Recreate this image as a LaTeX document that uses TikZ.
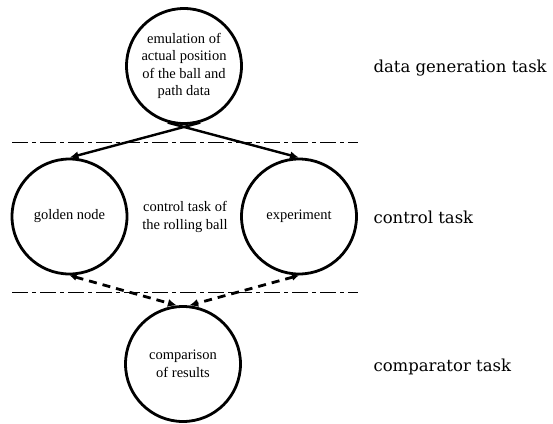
\documentclass[tikz,border=0pt]{standalone}
\usepackage{fontspec}
\setmainfont{Liberation Serif}
\newfontfamily\labelfont{DejaVu Serif}
\usetikzlibrary{arrows.meta}
\tikzset{
  task/.style={circle, draw, line width=2.8pt, minimum size=115pt, inner sep=0pt,
    align=center, font=\fontsize{14.5}{17.5}\selectfont},
  plain/.style={align=center, font=\fontsize{14.5}{17.5}\selectfont},
  tasklabel/.style={anchor=base west, font=\labelfont\fontsize{16.5}{19}\selectfont},
  flow/.style={-{Latex[length=9pt,width=8pt]}, line width=2.4pt},
  check/.style={{Latex[length=7pt,width=7pt]}-{Latex[length=9pt,width=8pt]}, line width=2.8pt, dash pattern=on 8pt off 6pt},
  sep/.style={line width=0.8pt, dash pattern=on 16pt off 4pt on 4pt off 4pt}
}
\begin{document}
\begin{tikzpicture}[x=1pt,y=-1pt]
\useasboundingbox (0,0) rectangle (553,423);
\node[task] (gen) at (184,66) {emulation of\\actual position\\of the ball and\\path data};
\node[task] (gold) at (69.5,216.5) {golden node};
\node[task] (exp) at (299,216.5) {experiment};
\node[task] (cmp) at (183,364) {comparison\\of results};
\node[plain] (mid) at (185,217) {control task of\\the rolling ball};
\coordinate (s1a) at (12,142);
\coordinate (s1b) at (358,142);
\coordinate (s2a) at (12,292);
\coordinate (s2b) at (358,292);
\draw[sep] (s1a) -- (s1b);
\draw[sep] (s2a) -- (s2b);
\draw[flow] (gen.-74) -- (gold.north);
\draw[flow] (gen.-106) -- (exp.north);
\draw[check] (gold.south) -- (cmp.96);
\draw[check] (exp.south) -- (cmp.84);
\node[tasklabel] (l1) at (370,72) {data generation task};
\node[tasklabel] (l2) at (370,223) {control task};
\node[tasklabel] (l3) at (370,371) {comparator task};
\end{tikzpicture}
\end{document}
